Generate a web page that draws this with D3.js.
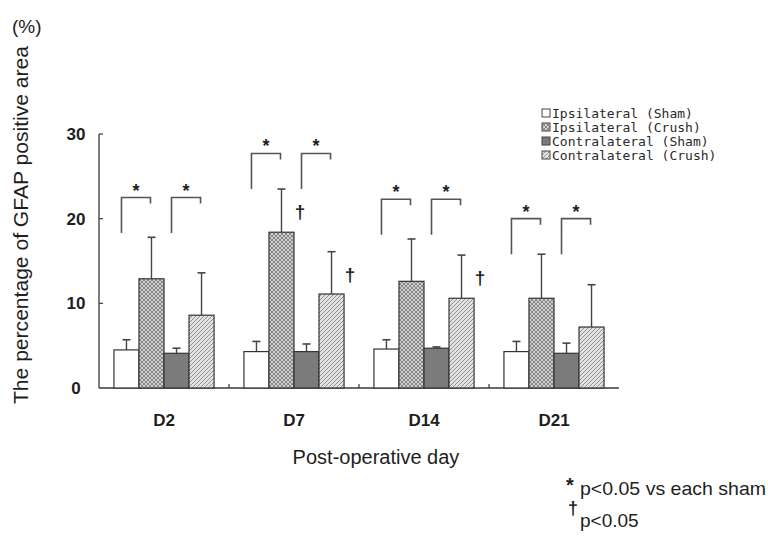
<!DOCTYPE html>
<html>
<head>
<meta charset="utf-8">
<script src="https://cdn.jsdelivr.net/npm/d3@7"></script>
<style>
  html, body { margin: 0; padding: 0; background: #fff; }
  svg { display: block; font-family: Arial, "Liberation Sans", sans-serif; }
</style>
</head>
<body>
<svg id="chart" width="768" height="538"></svg>
<script>
// data
const days = ['D2', 'D7', 'D14', 'D21'];
const series = ['Ipsilateral (Sham)', 'Ipsilateral (Crush)', 'Contralateral (Sham)', 'Contralateral (Crush)'];
const ipsiSham = [4.5, 4.3, 4.6, 4.3];
const ipsiShamSd = [1.2, 1.2, 1.1, 1.2];
const ipsiCrush = [12.9, 18.4, 12.6, 10.6];
const ipsiCrushSd = [4.9, 5.1, 5.0, 5.2];
const contraSham = [4.1, 4.3, 4.7, 4.1];
const contraShamSd = [0.6, 0.9, 0.15, 1.2];
const contraCrush = [8.6, 11.1, 10.6, 7.2];
const contraCrushSd = [5.0, 5.0, 5.1, 5.0];
const bracketTop = [22.5, 27.7, 22.3, 20.0];
const bracketBottom = [18.3, 23.5, 18.1, 15.8];
const daggers = [['D7', 1], ['D7', 3], ['D14', 3]];
const yTicks = [0, 10, 20, 30];

const means = [ipsiSham, ipsiCrush, contraSham, contraCrush];
const sds = [ipsiShamSd, ipsiCrushSd, contraShamSd, contraCrushSd];

const svg = d3.select('#chart');
const ink = '#3a3a3a';
const txt = '#1e1e1e';

// fill patterns
const defs = svg.append('defs');
const cross = defs.append('pattern').attr('id', 'cross')
  .attr('patternUnits', 'userSpaceOnUse').attr('width', 4).attr('height', 4);
cross.append('rect').attr('width', 4).attr('height', 4).attr('fill', '#cfcfcf');
cross.append('path').attr('d', 'M0,0 L4,4 M4,0 L0,4').attr('stroke', '#767676').attr('stroke-width', 0.8);

const hatch = defs.append('pattern').attr('id', 'hatch')
  .attr('patternUnits', 'userSpaceOnUse').attr('width', 4).attr('height', 4);
hatch.append('rect').attr('width', 4).attr('height', 4).attr('fill', '#e2e2e2');
hatch.append('path').attr('d', 'M-1,1 L1,-1 M0,4 L4,0 M3,5 L5,3').attr('stroke', '#888').attr('stroke-width', 0.9);

const fills = ['#ffffff', 'url(#cross)', '#7b7b7b', 'url(#hatch)'];

const x = d3.scaleBand().domain(days).range([99, 619]).paddingInner(0.23).paddingOuter(0.115);
const xs = d3.scaleBand().domain(d3.range(4)).range([0, x.bandwidth()]);
const y = d3.scaleLinear().domain([0, 30]).range([388, 134]);

// axes
svg.append('line').attr('x1', 99).attr('x2', 99).attr('y1', y(30)).attr('y2', y(0))
  .attr('stroke', ink).attr('stroke-width', 1.3);
svg.append('line').attr('x1', 99).attr('x2', 619).attr('y1', y(0)).attr('y2', y(0))
  .attr('stroke', ink).attr('stroke-width', 1.3);
svg.selectAll('.ytick').data(yTicks.slice(1)).join('line')
  .attr('x1', 99).attr('x2', 103).attr('y1', d => y(d)).attr('y2', d => y(d))
  .attr('stroke', ink).attr('stroke-width', 1.2);
svg.selectAll('.ylab').data(yTicks).join('text')
  .attr('x', 76).attr('y', d => y(d) + 6).attr('text-anchor', 'middle')
  .attr('font-size', 17).attr('font-weight', 'bold').attr('fill', txt)
  .text(d => d);
// small separator ticks between groups
svg.selectAll('.sep').data(days.slice(1)).join('line')
  .attr('x1', d => x(d) - x.step() * 0.115).attr('x2', d => x(d) - x.step() * 0.115)
  .attr('y1', y(0)).attr('y2', y(0) - 4)
  .attr('stroke', ink).attr('stroke-width', 1.2);

svg.selectAll('.xlab').data(days).join('text')
  .attr('x', d => x(d) + x.bandwidth() / 2).attr('y', 426).attr('text-anchor', 'middle')
  .attr('font-size', 17).attr('font-weight', 'bold').attr('fill', txt)
  .text(d => d);

svg.append('text').attr('x', 376).attr('y', 464).attr('text-anchor', 'middle')
  .attr('font-size', 20).attr('fill', txt).text('Post-operative day');

svg.append('text').attr('transform', 'translate(28,225) rotate(-90)')
  .attr('text-anchor', 'middle').attr('font-size', 20).attr('fill', txt)
  .attr('textLength', 358).attr('lengthAdjust', 'spacingAndGlyphs')
  .text('The percentage of GFAP positive area');
svg.append('text').attr('x', 12).attr('y', 33).attr('font-size', 19).attr('fill', txt).text('(%)');

// bars and error bars
const cells = [];
days.forEach((d, i) => series.forEach((s, j) => cells.push({ d, j, v: means[j][i], sd: sds[j][i] })));

const bx = c => x(c.d) + xs(c.j);
const bw = xs.bandwidth();

svg.selectAll('.err').data(cells).join('line')
  .attr('x1', c => bx(c) + bw / 2).attr('x2', c => bx(c) + bw / 2)
  .attr('y1', c => y(c.v)).attr('y2', c => y(c.v + c.sd))
  .attr('stroke', '#444').attr('stroke-width', 1.4);
svg.selectAll('.cap').data(cells).join('line')
  .attr('x1', c => bx(c) + bw / 2 - 4).attr('x2', c => bx(c) + bw / 2 + 4)
  .attr('y1', c => y(c.v + c.sd)).attr('y2', c => y(c.v + c.sd))
  .attr('stroke', '#444').attr('stroke-width', 1.6);

svg.selectAll('.bar').data(cells).join('rect')
  .attr('x', bx).attr('width', bw)
  .attr('y', c => y(c.v)).attr('height', c => y(0) - y(c.v))
  .attr('fill', c => fills[c.j]).attr('stroke', '#333').attr('stroke-width', 1.2);

// significance brackets
const brackets = [];
days.forEach((d, i) => [0, 2].forEach(j => brackets.push({ d, i, j })));
const bl = b => x(b.d) + xs(b.j) + bw / 2 - 5;
const br = b => x(b.d) + xs(b.j + 1) + bw / 2 - 1;
svg.selectAll('.brk').data(brackets).join('path')
  .attr('d', b => `M${bl(b)},${y(bracketBottom[b.i])} V${y(bracketTop[b.i])} H${br(b)} v6`)
  .attr('fill', 'none').attr('stroke', '#555').attr('stroke-width', 1.6);
svg.selectAll('.star').data(brackets).join('text')
  .attr('x', b => (bl(b) + br(b)) / 2).attr('y', b => y(bracketTop[b.i]) - 1)
  .attr('text-anchor', 'middle').attr('font-size', 18).attr('font-weight', 'bold').attr('fill', txt)
  .text('*');

svg.selectAll('.dag').data(daggers).join('text')
  .attr('x', dg => x(dg[0]) + xs(dg[1]) + bw + 6)
  .attr('y', dg => {
    const i = days.indexOf(dg[0]);
    return y(means[dg[1]][i] + sds[dg[1]][i] - 2.6) + 7;
  })
  .attr('text-anchor', 'middle').attr('font-size', 19).attr('font-weight', 'bold').attr('fill', txt)
  .text('\u2020');

// legend
const legend = svg.append('g').attr('transform', 'translate(542,113)');
series.forEach((s, j) => {
  const g = legend.append('g').attr('transform', `translate(0,${j * 14})`);
  g.append('rect').attr('x', 0).attr('y', -4).attr('width', 8).attr('height', 8)
    .attr('fill', fills[j]).attr('stroke', '#444').attr('stroke-width', 1);
  g.append('text').attr('x', 10).attr('y', 5).attr('font-size', 13)
    .attr('font-family', '"DejaVu Sans Mono", monospace').attr('fill', '#2a2a2a').text(s);
});

// footnotes
svg.append('text').attr('x', 570).attr('y', 492).attr('text-anchor', 'middle')
  .attr('font-size', 20).attr('font-weight', 'bold').attr('fill', txt).text('*');
svg.append('text').attr('x', 580).attr('y', 495).attr('font-size', 19).attr('fill', txt)
  .attr('textLength', 186).attr('lengthAdjust', 'spacingAndGlyphs')
  .text('p<0.05 vs each sham');
svg.append('text').attr('x', 573).attr('y', 514).attr('text-anchor', 'middle')
  .attr('font-size', 18).attr('font-weight', 'bold').attr('fill', txt).text('\u2020');
svg.append('text').attr('x', 580).attr('y', 527).attr('font-size', 19).attr('fill', txt)
  .text('p<0.05');
</script>
</body>
</html>
